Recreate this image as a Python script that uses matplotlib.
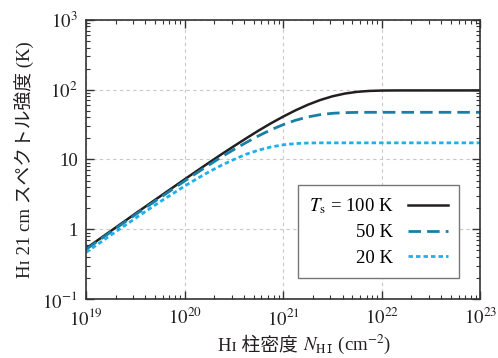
import numpy as np
import matplotlib
matplotlib.use('Agg')
import matplotlib.pyplot as plt
from matplotlib.ticker import FixedLocator, FixedFormatter, LogLocator, NullFormatter

plt.rcParams['font.family'] = ['Liberation Serif', 'DejaVu Serif', 'Noto Sans CJK JP']
plt.rcParams['mathtext.fontset'] = 'stix'

# column density (cm^-2), log10 values
log_n = [19.0, 19.25, 19.5, 19.75, 20.0, 20.125, 20.25, 20.375, 20.5, 20.625,
         20.75, 20.875, 21.0, 21.125, 21.25, 21.375, 21.5, 21.625, 21.75,
         21.875, 22.0, 22.125, 22.25, 22.5, 22.75, 23.0]
n_hi = [10 ** v for v in log_n]

# brightness temperature (K) for each spin temperature
tb_100 = [0.533, 0.946, 1.68, 2.96, 5.20, 6.87, 9.06, 11.9, 15.5, 20.1,
          25.9, 32.9, 41.1, 50.5, 60.7, 70.9, 80.2, 87.7, 92.9,
          95.7, 96.9, 97.2, 97.3, 97.3, 97.3, 97.3]
tb_50 = [0.517, 0.915, 1.62, 2.83, 4.92, 6.45, 8.40, 10.9, 13.9, 17.5,
         21.8, 26.6, 31.5, 36.4, 40.6, 43.8, 45.8, 46.8, 47.2,
         47.3, 47.3, 47.3, 47.3, 47.3, 47.3, 47.3]
tb_20 = [0.469, 0.825, 1.44, 2.48, 4.16, 5.31, 6.69, 8.28, 10.0, 11.9,
         13.6, 15.1, 16.2, 16.9, 17.2, 17.3, 17.3, 17.3, 17.3,
         17.3, 17.3, 17.3, 17.3, 17.3, 17.3, 17.3]

fig = plt.figure(figsize=(4.98, 3.58), dpi=100)
ax = fig.add_axes([0.1727, 0.164, 0.792, 0.781])

ax.plot(n_hi, tb_100, color='#231f20', lw=1.8, label=r'$T_{\rm s}$ = 100 K')
ax.plot(n_hi, tb_50, color='#1a7fa6', lw=2.0, dashes=(4.5, 2.2), label='50 K')
ax.plot(n_hi, tb_20, color='#1fb0ea', lw=2.0, dashes=(1.6, 1.1), label='20 K')

ax.set_xscale('log')
ax.set_yscale('log')
ax.set_xlim(1e19, 1e23)
ax.set_ylim(0.1, 1000)

ax.xaxis.set_major_locator(FixedLocator([1e19, 1e20, 1e21, 1e22, 1e23]))
ax.xaxis.set_major_formatter(FixedFormatter([r'$10^{19}$', r'$10^{20}$', r'$10^{21}$',
                                             r'$10^{22}$', r'$10^{23}$']))
ax.yaxis.set_major_locator(FixedLocator([0.1, 1, 10, 100, 1000]))
ax.yaxis.set_major_formatter(FixedFormatter([r'$10^{\mathrm{-1}}$', '1', '10', r'$10^{2}$', r'$10^{3}$']))
for a in (ax.xaxis, ax.yaxis):
    a.set_minor_locator(LogLocator(base=10, subs=np.arange(2, 10), numticks=20))
    a.set_minor_formatter(NullFormatter())

ax.tick_params(which='both', direction='in', top=True, right=True, colors='#333333',
               labelcolor='#231f20', labelsize=13.5)
ax.tick_params(which='major', length=6, width=1.0, pad=6)
ax.tick_params(which='minor', length=3, width=0.8)
for s in ax.spines.values():
    s.set_color('#333333')
    s.set_linewidth(1.2)

ax.grid(True, which='major', ls=(0, (3, 3)), color='#c8c8c8', lw=0.8)

# x label in two pieces: plain text (CJK) + math part
fig.text(0.6084, 0.0223, 'H\u026a 柱密度 ', ha='right', va='baseline',
         fontsize=13.5, color='#231f20')
fig.text(0.6084, 0.0223, r'$N_{\rm H\,\mathsf{I}}$ (cm$^{-2}$)', ha='left', va='baseline',
         fontsize=13.5, color='#231f20')
ax.set_ylabel('H\u026a 21 cm スペクトル強度 (K)', fontsize=13.5, color='#231f20', labelpad=6)

leg = ax.legend(loc='upper right', bbox_to_anchor=(0.9455, 0.409), borderaxespad=0,
                markerfirst=False, fontsize=13.5, handlelength=2.1, labelspacing=0.45,
                fancybox=False, edgecolor='#777777', framealpha=1, borderpad=0.6)
leg.get_frame().set_linewidth(1.0)
for t in leg.get_texts():
    t.set_ha('right')

fig.savefig('out.png', dpi=100)
